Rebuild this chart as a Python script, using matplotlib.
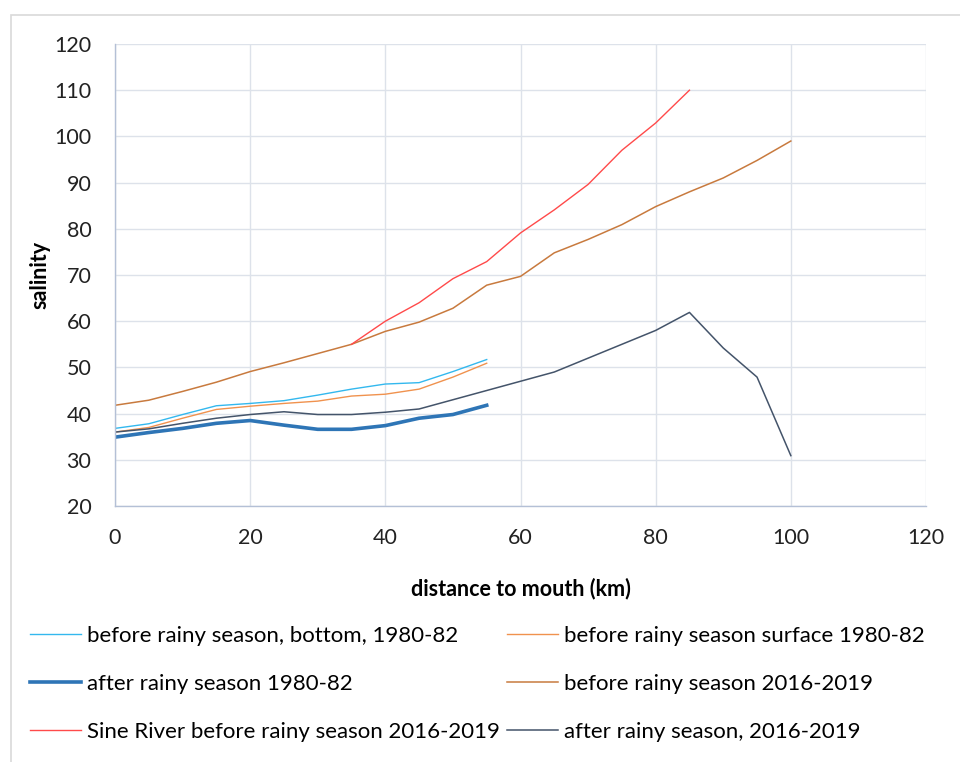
import matplotlib
matplotlib.use("Agg")
import matplotlib.pyplot as plt
from matplotlib.patches import Rectangle

plt.rcParams['font.family'] = ['Lato', 'DejaVu Sans']

# Data
dist_55 = [0, 5, 10, 15, 20, 25, 30, 35, 40, 45, 50, 55]
bottom_1980 = [36.8, 37.8, 39.8, 41.7, 42.2, 42.8, 44.0, 45.3, 46.4, 46.7, 49.1, 51.7]
surface_1980 = [36.0, 37.0, 39.0, 40.9, 41.6, 42.2, 42.7, 43.8, 44.2, 45.3, 47.9, 50.9]
after_1980 = [34.9, 35.9, 36.8, 37.9, 38.5, 37.5, 36.6, 36.6, 37.4, 39.0, 39.8, 41.8]

dist_100 = [0, 5, 10, 15, 20, 25, 30, 35, 40, 45, 50, 55, 60, 65, 70, 75, 80, 85, 90, 95, 100]
before_2016 = [41.8, 42.9, 44.8, 46.8, 49.1, 51.0, 53.0, 55.0, 57.8, 59.8, 62.8, 67.8, 69.7,
               74.8, 77.7, 80.9, 84.8, 88.0, 91.0, 94.8, 99.0]
after_2016 = [36.0, 36.7, 37.9, 39.0, 39.8, 40.4, 39.8, 39.8, 40.3, 41.0, 43.0, 45.0, 47.0,
              49.0, 52.0, 55.0, 58.0, 61.9, 54.2, 47.9, 30.9]

dist_sine = [35, 40, 45, 50, 55, 60, 65, 70, 75, 80, 85]
sine_2016 = [55.0, 60.0, 64.0, 69.2, 72.9, 79.1, 84.1, 89.6, 97.0, 102.9, 110.0]

labels = ["before rainy season, bottom, 1980-82",
          "before rainy season surface 1980-82",
          "after rainy season 1980-82",
          "before rainy season 2016-2019",
          "Sine River before rainy season 2016-2019",
          "after rainy season, 2016-2019"]

W, H = 960, 762
fig = plt.figure(figsize=(W / 100, H / 100), dpi=100)
fig.patches.append(Rectangle((11 / W, -0.1), 2, 1 - 15 / H + 0.1, transform=fig.transFigure,
                             fill=False, edgecolor='#D9D9D9', linewidth=1.2))

ax = fig.add_axes([115 / W, 1 - 506 / H, (926 - 115) / W, (506 - 44) / H])

l_bottom, = ax.plot(dist_55, bottom_1980, color='#33B8EE', lw=1.0)
l_surface, = ax.plot(dist_55, surface_1980, color='#F0924E', lw=1.0)
l_after80, = ax.plot(dist_55, after_1980, color='#2E75B6', lw=2.6)
l_before16, = ax.plot(dist_100, before_2016, color='#C87A3E', lw=1.1)
l_sine, = ax.plot(dist_sine, sine_2016, color='#FF4A4A', lw=1.0)
l_after16, = ax.plot(dist_100, after_2016, color='#44546A', lw=1.1)

ax.set_xlim(0, 120)
ax.set_ylim(20, 120)
ax.set_xticks(range(0, 121, 20))
ax.set_yticks(range(20, 121, 10))
ax.grid(True, color='#DDE2EA', linewidth=1.0)
ax.set_axisbelow(True)
for s in ['top', 'right']:
    ax.spines[s].set_visible(False)
for s in ['left', 'bottom']:
    ax.spines[s].set_color('#B4C0D6')
    ax.spines[s].set_linewidth(1.0)
ax.tick_params(length=0, labelsize=15.5, colors='#222222')
ax.tick_params(axis='x', pad=16)
ax.tick_params(axis='y', pad=17)
ax.set_ylabel("salinity", fontsize=15.5, fontweight='bold', labelpad=3)
ax.set_xlabel("distance to mouth (km)", fontsize=15.5, fontweight='bold', labelpad=21)

handles = [l_bottom, l_after80, l_sine, l_surface, l_before16, l_after16]
hl = [labels[0], labels[2], labels[4], labels[1], labels[3], labels[5]]
fig.legend(handles, hl, loc='upper left', bbox_to_anchor=(30 / W, 1 - 626 / H), ncol=2,
           frameon=False, fontsize=16, handlelength=2.3, handletextpad=0.25,
           columnspacing=0.35, labelspacing=1.25, borderaxespad=0, borderpad=0)

fig.savefig("out.png", dpi=100, facecolor='white')
